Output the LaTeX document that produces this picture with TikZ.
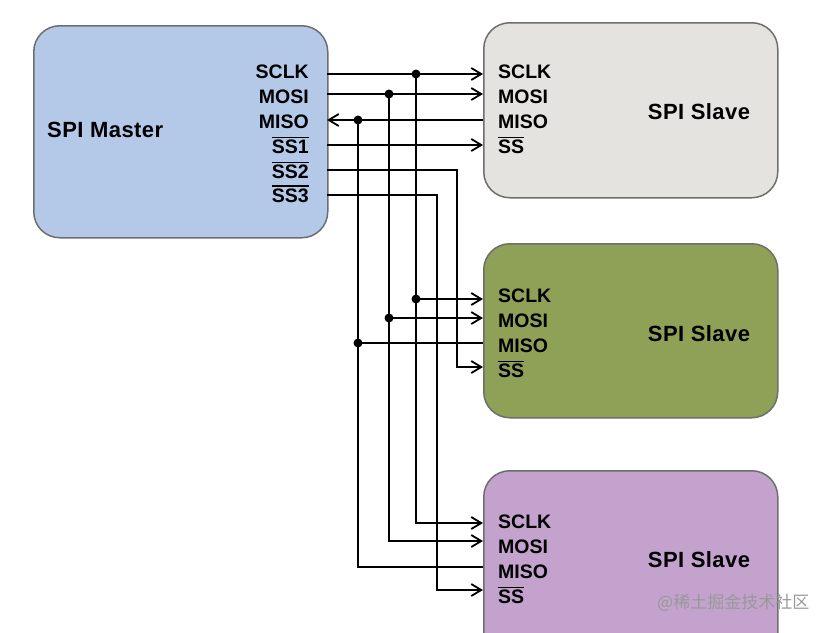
\documentclass[tikz,border=0pt]{standalone}
\usepackage{fontspec}
\setmainfont{Liberation Sans}
\newfontfamily\cjk{Noto Sans CJK SC}
\usetikzlibrary{arrows.meta}
\definecolor{mfill}{RGB}{180,201,232}
\definecolor{s1fill}{RGB}{228,227,223}
\definecolor{s2fill}{RGB}{143,160,87}
\definecolor{s3fill}{RGB}{195,162,205}
\definecolor{bordc}{RGB}{110,110,110}
\newcommand{\ovl}[1]{\setbox0\hbox{#1}\rlap{\smash{\raisebox{\dimexpr\ht0+2.5pt\relax}{\rule{\wd0}{1.1pt}}}}\box0}
\begin{document}
\begin{tikzpicture}[x=1pt,y=-1pt,
  box/.style={draw=bordc,line width=1.5pt,rounded corners=26pt},
  port/.style={font=\bfseries\fontsize{19.5}{21}\selectfont,inner sep=0pt},
  title/.style={font=\bfseries\fontsize{22}{24}\selectfont\addfontfeature{LetterSpace=2},inner sep=0pt},
  wire/.style={line width=1.6pt},
  thin wire/.style={line width=1.2pt},
  arr/.style={-{Straight Barb[length=10pt,width=12pt,line width=1.8pt]}},
  dot/.style={circle,fill=black,inner sep=0pt,minimum size=9pt}]
\useasboundingbox (0,0) rectangle (834,632);
% boxes
\node[box,fill=mfill,minimum width=294pt,minimum height=212pt,anchor=north west] (master) at (33,25) {};
\node[box,fill=s1fill,minimum width=294pt,minimum height=175pt,anchor=north west] (slave1) at (483,22) {};
\node[box,fill=s2fill,minimum width=294pt,minimum height=174pt,anchor=north west] (slave2) at (483,243) {};
\node[box,fill=s3fill,minimum width=294pt,minimum height=190pt,anchor=north west] (slave3) at (483,470) {};
% titles
\node[title,anchor=west] (mt) at (47,130) {SPI Master};
\node[title] (s1t) at (699,112) {SPI Slave};
\node[title] (s2t) at (699,334) {SPI Slave};
\node[title] (s3t) at (699,560) {SPI Slave};
% master ports
\node[port,anchor=east] (msclk) at (309,72) {SCLK};
\node[port,anchor=east] (mmosi) at (309,97) {MOSI};
\node[port,anchor=east] (mmiso) at (309,122) {MISO};
\node[port,anchor=east] (mss1) at (309,147) {\ovl{SS1}};
\node[port,anchor=east] (mss2) at (309,172) {\ovl{SS2}};
\node[port,anchor=east] (mss3) at (309,196) {\ovl{SS3}};
% slave ports
\foreach \s/\y in {1/72,2/296,3/522}{
  \node[port,anchor=west] (s\s sclk) at (498,\y) {SCLK};
  \node[port,anchor=west] (s\s mosi) at (498,\y+25) {MOSI};
  \node[port,anchor=west] (s\s miso) at (498,\y+50) {MISO};
  \node[port,anchor=west] (s\s ss) at (498,\y+75) {\ovl{SS}};
}
% coordinates at master edge
\coordinate (a1) at (327,74);
\coordinate (a2) at (327,94);
\coordinate (a3) at (327,120);
\coordinate (a4) at (327,145);
\coordinate (a5) at (327,170);
\coordinate (a6) at (327,195);
% slave 1 inputs
\coordinate (b1) at (483,74);
\coordinate (b2) at (483,94);
\coordinate (b3) at (483,120);
\coordinate (b4) at (483,145);
% slave 2 inputs
\coordinate (c1) at (483,299);
\coordinate (c2) at (483,318);
\coordinate (c3) at (483,343);
\coordinate (c4) at (483,367);
% slave 3 inputs
\coordinate (d1) at (483,523);
\coordinate (d2) at (483,541);
\coordinate (d3) at (483,567);
\coordinate (d4) at (483,590);
% junction dots
\node[dot] (j1) at (416,74) {};
\node[dot] (j2) at (389,94) {};
\node[dot] (j3) at (358,120) {};
\node[dot] (k1) at (416,299) {};
\node[dot] (k2) at (389,318) {};
\node[dot] (k3) at (358,343) {};
% SCLK
\draw[wire,arr] (a1) -- (b1);
\draw[thin wire] (j1.center) -- (k1.center);
\draw[thin wire,arr] (k1.center) -- (c1);
\draw[thin wire,arr] (k1.center) |- (d1);
% MOSI
\draw[wire,arr] (a2) -- (b2);
\draw[thin wire] (j2.center) -- (k2.center);
\draw[thin wire,arr] (k2.center) -- (c2);
\draw[thin wire,arr] (k2.center) |- (d2);
% MISO
\draw[wire,arr] (b3) -- (a3);
\draw[thin wire] (j3.center) -- (k3.center);
\draw[thin wire] (k3.center) -- (c3);
\draw[thin wire] (k3.center) |- (d3);
% SS
\draw[wire,arr] (a4) -- (b4);
\draw[thin wire,arr] (a5) -| (457,367) -- (c4);
\draw[thin wire,arr] (a6) -| (437,590) -- (d4);
% watermark
\node[inner sep=0pt,anchor=west,text=gray!80,font=\cjk\fontsize{17}{19}\selectfont] (wm) at (657,603) {@稀土掘金技术社区};
\end{tikzpicture}
\end{document}
